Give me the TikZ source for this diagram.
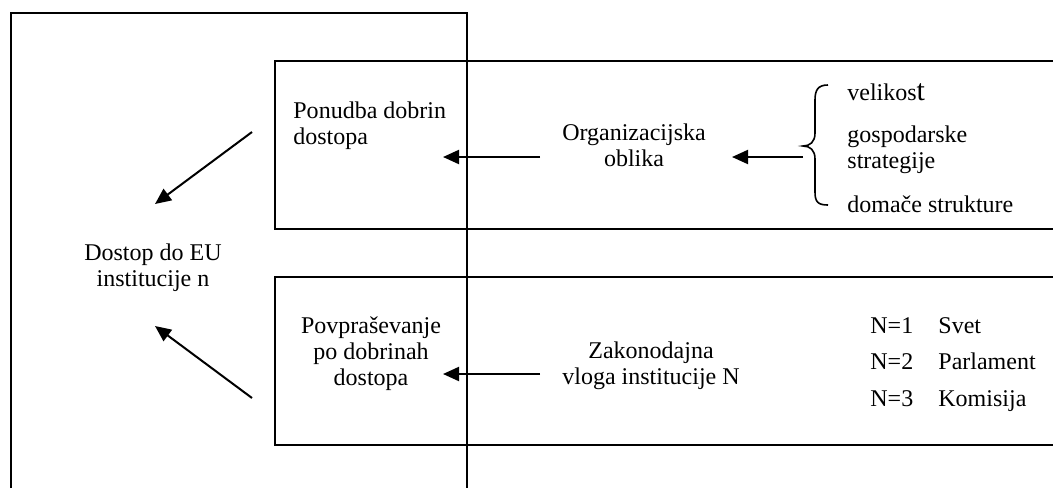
\documentclass[tikz,border=0pt]{standalone}
\usepackage{fontspec}
\setmainfont{Liberation Serif}
\usetikzlibrary{arrows.meta}
\newcommand\txtsize{\fontsize{12}{13}\selectfont}
\tikzset{
  frame/.style={line width=1pt, line join=miter},
  arr/.style={line width=1pt, -{Triangle[length=8pt,width=7pt]}},
  txt/.style={inner sep=0pt, font=\txtsize, anchor=base},
  txtl/.style={txt, anchor=base west},
  bracestyle/.style={line width=0.8pt}
}
\begin{document}
\begin{tikzpicture}[x=0.5pt,y=-0.5pt]
\useasboundingbox (0,0) rectangle (1053,488);
% frames
\draw[frame] (11,488) -- (11,13) -- (467,13) -- (467,488);
\draw[frame] (1053,61) -- (275,61) -- (275,229) -- (1053,229);
\draw[frame] (1053,277) -- (275,277) -- (275,445) -- (1053,445);
% texts
\node[txt] (dostop) at (153,260.7) {\begin{tabular}[t]{@{}c@{}}Dostop do EU\\institucije n\end{tabular}};
\node[txtl] (ponudba) at (293,118) {\begin{tabular}[t]{@{}l@{}}Ponudba dobrin\\dostopa\end{tabular}};
\node[txt] (org) at (634,140) {\begin{tabular}[t]{@{}c@{}}Organizacijska\\oblika\end{tabular}};
\node[txtl] (vel) at (847,100) {velikos{\fontsize{15}{15}\selectfont t}};
\node[txtl] (gosp) at (847,142) {\begin{tabular}[t]{@{}l@{}}gospodarske\\strategije\end{tabular}};
\node[txtl] (dom) at (847,212) {domače strukture};
\node[txt] (povp) at (371,333) {\begin{tabular}[t]{@{}c@{}}Povpraševanje\\po dobrinah\\dostopa\end{tabular}};
\node[txt] (zak) at (651,358) {\begin{tabular}[t]{@{}c@{}}Zakonodajna\\vloga institucije N\end{tabular}};
\node[txtl] (nlist) at (870,333) {\begin{tabular}[t]{@{}l@{}}\makebox[34pt][l]{N=1}Svet\\[5.25pt]\makebox[34pt][l]{N=2}Parlament\\[5.25pt]\makebox[34pt][l]{N=3}Komisija\end{tabular}};
% brace
\draw[bracestyle] (828,85) .. controls (818,85) and (815,90) .. (815,100) -- (815,133)
  .. controls (815,142) and (810,146) .. (803,146)
  .. controls (810,146) and (815,150) .. (815,159) -- (815,192)
  .. controls (815,202) and (818,205) .. (828,205);
% arrow coordinates
\coordinate (d1s) at (252,132); \coordinate (d1e) at (155,204);
\coordinate (d2s) at (252,398); \coordinate (d2e) at (155,326);
\coordinate (h1s) at (540,157); \coordinate (h1e) at (443,157);
\coordinate (h2s) at (540,374); \coordinate (h2e) at (443,374);
\coordinate (b1s) at (803,157); \coordinate (b1e) at (732,157);
\draw[arr] (d1s) -- (d1e);
\draw[arr] (d2s) -- (d2e);
\draw[arr] (h1s) -- (h1e);
\draw[arr] (h2s) -- (h2e);
\draw[arr] (b1s) -- (b1e);
\end{tikzpicture}
\end{document}
